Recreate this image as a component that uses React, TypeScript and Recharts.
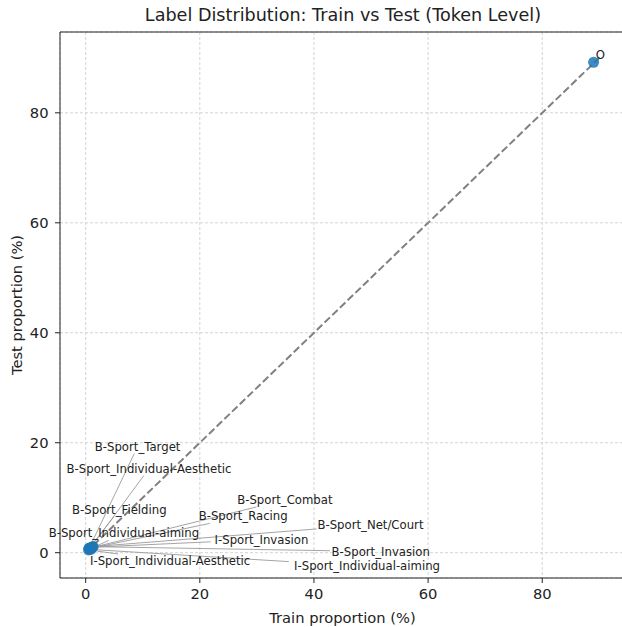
import React from 'react';
import { ScatterChart, Scatter, XAxis, YAxis, CartesianGrid, ReferenceLine } from 'recharts';

const labels = [
  'B-Sport_Target',
  'B-Sport_Individual-Aesthetic',
  'B-Sport_Combat',
  'B-Sport_Fielding',
  'B-Sport_Racing',
  'B-Sport_Net/Court',
  'B-Sport_Individual-aiming',
  'I-Sport_Invasion',
  'B-Sport_Invasion',
  'I-Sport_Individual-Aesthetic',
  'I-Sport_Individual-aiming',
  'O',
];
const trainPct = [0.6, 0.7, 1.0, 0.6, 0.9, 1.2, 0.8, 1.1, 1.3, 0.5, 0.9, 89.0];
const testPct = [0.8, 0.7, 0.9, 0.8, 0.8, 1.1, 0.7, 1.0, 1.1, 0.5, 0.6, 89.2];

// where each annotation text sits (data units)
const labelX = [9.1, 11.1, 34.9, 5.9, 27.6, 49.9, 6.7, 30.8, 51.7, 14.8, 49.3, 90.2];
const labelY = [19.3, 15.3, 9.6, 7.8, 6.6, 5.1, 3.5, 2.4, 0.2, -1.5, -2.5, 90.6];

const ticks = [0, 20, 40, 60, 80];
const diagonalMax = 90.1;
const xDomain = [-4.5, 94.5];
const yDomain = [-4.6, 94.7];

const W = 630;
const H = 627;
const margin = { top: 32, right: 5, bottom: 4, left: 0 };
const yAxisW = 60;
const xAxisH = 45;
const plotW = W - margin.left - margin.right - yAxisW;
const plotH = H - margin.top - margin.bottom - xAxisH;
const kx = plotW / (xDomain[1] - xDomain[0]);
const ky = plotH / (yDomain[1] - yDomain[0]);

const FONT = 'DejaVu Sans, sans-serif';
const LABEL_SIZE = 11.7;
const AXIS_SIZE = 14.7;

const points = labels.map((name, i) => ({ name, x: trainPct[i], y: testPct[i] }));
const labelData = labels.map((name, i) => ({ name, x: labelX[i], y: labelY[i] }));

// leader line from the point to the edge of the text box
const leaders = labels
  .map((name, i) => {
    const dx = (labelX[i] - trainPct[i]) * kx;
    const dy = (labelY[i] - testPct[i]) * ky;
    const hw = (name.length * 6.1) / 2 + 2;
    const hh = 7;
    const t = Math.min(hw / Math.abs(dx || 1e-6), hh / Math.abs(dy || 1e-6));
    if (t >= 1) return null;
    return {
      key: name,
      from: { x: trainPct[i], y: testPct[i] },
      to: { x: labelX[i] - t * (labelX[i] - trainPct[i]), y: labelY[i] - t * (labelY[i] - testPct[i]) },
    };
  })
  .filter(Boolean) as { key: string; from: { x: number; y: number }; to: { x: number; y: number } }[];

const Dot = (p: any) => <circle cx={p.cx} cy={p.cy} r={5.5} fill="#1f77b4" fillOpacity={0.85} />;

const LabelText = (p: any) => (
  <text
    x={p.cx}
    y={p.cy}
    textAnchor="middle"
    dominantBaseline="central"
    fontSize={LABEL_SIZE}
    fontFamily={FONT}
    fill="#222"
  >
    {p.payload.name}
  </text>
);

export default function App() {
  return (
    <div
      style={{
        position: 'absolute',
        left: 0,
        top: 0,
        width: 622,
        height: 627,
        overflow: 'hidden',
        background: '#fff',
        fontFamily: FONT,
      }}
    >
      <div
        style={{
          position: 'absolute',
          left: 0,
          top: 5,
          width: 686,
          textAlign: 'center',
          fontSize: 17.6,
          lineHeight: '20px',
          color: '#222',
        }}
      >
        Label Distribution: Train vs Test (Token Level)
      </div>
      <ScatterChart width={W} height={H} margin={margin}>
        <CartesianGrid stroke="#d4d4d4" strokeDasharray="3 2" />
        <XAxis
          type="number"
          dataKey="x"
          domain={xDomain}
          ticks={ticks}
          height={xAxisH}
          tickSize={5}
          tickMargin={6}
          axisLine={{ stroke: '#222' }}
          tickLine={{ stroke: '#222' }}
          tick={{ fontSize: AXIS_SIZE, fill: '#222', fontFamily: FONT }}
          label={(props: any) => {
            const vb = props.viewBox;
            return (
              <text
                x={vb.x + vb.width / 2}
                y={vb.y + 39}
                textAnchor="middle"
                dominantBaseline="central"
                fontSize={AXIS_SIZE}
                fontFamily={FONT}
                fill="#222"
              >
                Train proportion (%)
              </text>
            );
          }}
        />
        <YAxis
          type="number"
          dataKey="y"
          domain={yDomain}
          ticks={ticks}
          width={yAxisW}
          tickSize={5}
          tickMargin={6.5}
          axisLine={{ stroke: '#222' }}
          tickLine={{ stroke: '#222' }}
          tick={{ fontSize: AXIS_SIZE, fill: '#222', fontFamily: FONT }}
          label={(props: any) => {
            const vb = props.viewBox;
            const cy = vb.y + vb.height / 2;
            return (
              <text
                x={16}
                y={cy}
                transform={`rotate(-90 16 ${cy})`}
                textAnchor="middle"
                dominantBaseline="central"
                fontSize={AXIS_SIZE}
                fontFamily={FONT}
                fill="#222"
              >
                Test proportion (%)
              </text>
            );
          }}
        />
        <ReferenceLine y={yDomain[1]} stroke="#222" strokeWidth={1} />
        <ReferenceLine
          segment={[
            { x: 0, y: 0 },
            { x: diagonalMax, y: diagonalMax },
          ]}
          stroke="#808080"
          strokeWidth={2}
          strokeDasharray="7.5 3.2"
        />
        <Scatter data={points} shape={Dot} isAnimationActive={false} />
        {leaders.map((l) => (
          <ReferenceLine key={l.key} segment={[l.from, l.to]} stroke="#9a9a9a" strokeWidth={0.9} />
        ))}
        <Scatter data={labelData} shape={LabelText} isAnimationActive={false} />
      </ScatterChart>
    </div>
  );
}
